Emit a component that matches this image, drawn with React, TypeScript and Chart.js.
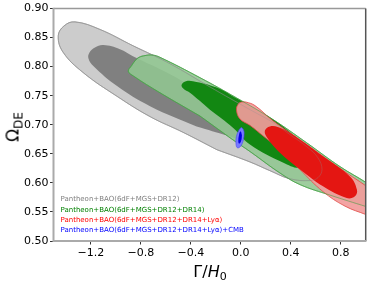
import React, { useEffect, useRef } from "react";
import { Chart, registerables } from "chart.js";

Chart.register(...registerables);

// Axis ticks
const xTicks = [-1.2, -0.8, -0.4, 0.0, 0.4, 0.8];
const yTicks = [0.5, 0.55, 0.6, 0.65, 0.7, 0.75, 0.8, 0.85, 0.9];

// Legend
const legendLabels = [
  "Pantheon+BAO(6dF+MGS+DR12)",
  "Pantheon+BAO(6dF+MGS+DR12+DR14)",
  "Pantheon+BAO(6dF+MGS+DR12+DR14+Lyα)",
  "Pantheon+BAO(6dF+MGS+DR12+DR14+Lyα)+CMB",
];
const legendColors = ["#808080", "#008000", "#ff0000", "#0000ff"];

// Contours (Γ/H0, Ω_DE)
const grayOuterX = [-0.191, -0.463, -0.727, -0.992, -1.264, -1.424, -1.462, -1.416, -1.328, -1.128, -0.864, -0.567, -0.247, 0.073, 0.257, 0.394, 0.53, 0.618, 0.65, 0.618, 0.554, 0.394, 0.233, 0.073];
const grayOuterY = [0.657, 0.687, 0.714, 0.749, 0.79, 0.825, 0.853, 0.87, 0.877, 0.864, 0.836, 0.805, 0.765, 0.726, 0.704, 0.683, 0.662, 0.643, 0.623, 0.609, 0.604, 0.607, 0.621, 0.636];

const grayInnerX = [-0.354, -0.727, -0.994, -1.181, -1.22, -1.213, -1.168, -1.101, -0.968, -0.864, -0.567, -0.247, 0.033, 0.169, 0.185, 0.089, -0.103];
const grayInnerY = [0.697, 0.732, 0.767, 0.801, 0.814, 0.824, 0.833, 0.837, 0.83, 0.818, 0.787, 0.747, 0.712, 0.693, 0.676, 0.669, 0.681];

const greenOuterX = [-0.327, -0.647, -0.861, -0.901, -0.874, -0.847, -0.815, -0.767, -0.711, -0.647, -0.327, -0.033, 0.257, 0.527, 0.794, 1.008, 1.154, 1.234, 1.194, 1.008, 0.714, 0.474, 0.313, 0.073, -0.063];
const greenOuterY = [0.715, 0.755, 0.784, 0.792, 0.802, 0.81, 0.816, 0.819, 0.82, 0.816, 0.781, 0.746, 0.709, 0.669, 0.628, 0.6, 0.578, 0.559, 0.547, 0.559, 0.579, 0.597, 0.617, 0.654, 0.674];

const greenInnerX = [-0.247, -0.407, -0.463, -0.474, -0.439, -0.383, -0.193, -0.031, 0.193, 0.394, 0.514, 0.538, 0.474, 0.337, 0.073, -0.063];
const greenInnerY = [0.726, 0.755, 0.763, 0.769, 0.775, 0.775, 0.764, 0.745, 0.718, 0.687, 0.661, 0.64, 0.626, 0.635, 0.666, 0.695];

const redOuterX = [0.337, 0.177, 0.073, -0.007, -0.035, -0.019, 0.005, 0.041, 0.113, 0.257, 0.527, 0.794, 1.008, 1.194, 1.29, 1.194, 1.008, 0.834, 0.658, 0.474];
const redOuterY = [0.654, 0.681, 0.699, 0.71, 0.726, 0.736, 0.739, 0.739, 0.733, 0.707, 0.666, 0.625, 0.594, 0.566, 0.547, 0.529, 0.545, 0.56, 0.585, 0.623];

const redInnerX = [0.474, 0.313, 0.207, 0.193, 0.233, 0.297, 0.394, 0.658, 0.874, 0.93, 0.914, 0.848, 0.658];
const redInnerY = [0.623, 0.652, 0.679, 0.69, 0.697, 0.696, 0.686, 0.646, 0.611, 0.588, 0.577, 0.574, 0.594];

const blueOuterX = [0.025, 0.012, -0.011, -0.031, -0.039, -0.035, -0.019, -0.004, 0.009, 0.025];
const blueOuterY = [0.68, 0.668, 0.661, 0.661, 0.669, 0.68, 0.689, 0.694, 0.695, 0.689];

const blueInnerX = [0.009, 0.005, -0.007, -0.017, -0.02, -0.015, -0.007, 0.001];
const blueInnerY = [0.682, 0.674, 0.668, 0.668, 0.674, 0.682, 0.688, 0.688];

const closed = (xs: number[], ys: number[]) => {
  const pts = xs.map((x, i) => ({ x, y: ys[i] }));
  pts.push({ x: xs[0], y: ys[0] });
  return pts;
};

const region = (xs: number[], ys: number[], fillColor: string, borderColor: string, borderWidth: number, order: number) => ({
  data: closed(xs, ys),
  showLine: true,
  fill: "shape",
  backgroundColor: fillColor,
  borderColor,
  borderWidth,
  pointRadius: 0,
  pointHoverRadius: 0,
  tension: 0.4,
  capBezierPoints: false,
  order,
});

const outline = (xs: number[], ys: number[], color: string, order: number) => ({
  data: closed(xs, ys),
  showLine: true,
  fill: false,
  backgroundColor: "transparent",
  borderColor: color,
  borderWidth: 0.7,
  pointRadius: 0,
  pointHoverRadius: 0,
  tension: 0.4,
  capBezierPoints: false,
  order,
});

const fmtX = (v: number) => (v < -1e-9 ? "\u2212" + Math.abs(v).toFixed(1) : Math.abs(v).toFixed(1));
const fmtY = (v: number) => v.toFixed(2);

const framePlugin = {
  id: "frame",
  afterDraw(chart: any) {
    const { ctx, chartArea: a } = chart;
    ctx.save();
    ctx.lineWidth = 1.5;
    ctx.strokeStyle = "#999999";
    ctx.beginPath();
    ctx.moveTo(a.left, a.top);
    ctx.lineTo(a.right, a.top);
    ctx.stroke();
    ctx.strokeStyle = "#555555";
    ctx.beginPath();
    ctx.moveTo(a.right, a.top);
    ctx.lineTo(a.right, a.bottom);
    ctx.stroke();
    ctx.lineWidth = 2;
    ctx.strokeStyle = "#aaaaaa";
    ctx.beginPath();
    ctx.moveTo(a.left, a.top - 0.75);
    ctx.lineTo(a.left, a.bottom);
    ctx.lineTo(a.right + 0.75, a.bottom);
    ctx.stroke();
    ctx.restore();
  },
};

export default function App() {
  const ref = useRef<HTMLCanvasElement | null>(null);

  useEffect(() => {
    if (!ref.current) return;
    const font = { family: "'DejaVu Sans', sans-serif", size: 11 };
    const chart = new Chart(ref.current, {
      type: "scatter",
      data: {
        datasets: [
          region(grayOuterX, grayOuterY, "rgb(204,204,204)", "rgb(165,165,165)", 0.8, 10),
          region(grayInnerX, grayInnerY, "rgb(128,128,128)", "rgb(128,128,128)", 0, 9),
          region(greenOuterX, greenOuterY, "rgba(145,198,145,0.88)", "rgb(80,170,80)", 0.8, 8),
          region(greenInnerX, greenInnerY, "rgb(18,135,18)", "rgb(18,135,18)", 0, 7),
          outline(grayOuterX, grayOuterY, "rgba(140,140,140,0.55)", 6),
          region(redOuterX, redOuterY, "rgba(242,155,155,0.92)", "rgb(225,75,70)", 0.8, 5),
          region(redInnerX, redInnerY, "rgb(228,22,18)", "rgb(228,22,18)", 0, 4),
          outline(grayOuterX, grayOuterY, "rgba(140,140,140,0.45)", 3),
          outline(greenOuterX, greenOuterY, "rgba(70,160,70,0.8)", 2.5),
          region(blueOuterX, blueOuterY, "rgb(120,120,255)", "rgb(70,70,240)", 0.6, 2),
          region(blueInnerX, blueInnerY, "rgb(0,0,225)", "rgb(0,0,225)", 0, 1),
        ] as any,
      },
      options: {
        animation: false,
        responsive: false,
        devicePixelRatio: 1,
        events: [],
        layout: { padding: { top: 8.5, right: 8.3, left: 0, bottom: 0 } },
        plugins: { legend: { display: false }, tooltip: { enabled: false } },
        scales: {
          x: {
            type: "linear",
            min: -1.5,
            max: 1.0,
            afterBuildTicks: (s: any) => {
              s.ticks = xTicks.map((v) => ({ value: v }));
            },
            afterFit: (s: any) => {
              s.height = 44;
            },
            ticks: {
              callback: (v: any) => fmtX(Number(v)),
              color: "#000",
              font,
              padding: 2,
              maxRotation: 0,
              autoSkip: false,
            },
            grid: { display: true, drawOnChartArea: false, drawTicks: true, tickLength: 3.5, color: "#333", lineWidth: 1 },
            border: { display: false },
          },
          y: {
            type: "linear",
            min: 0.5,
            max: 0.9,
            afterBuildTicks: (s: any) => {
              s.ticks = yTicks.map((v) => ({ value: v }));
            },
            afterFit: (s: any) => {
              s.width = 53.5;
            },
            ticks: {
              callback: (v: any) => fmtY(Number(v)),
              color: "#000",
              font,
              padding: 1.5,
              autoSkip: false,
            },
            grid: { display: true, drawOnChartArea: false, drawTicks: true, tickLength: 3.5, color: "#333", lineWidth: 1 },
            border: { display: false },
          },
        },
      } as any,
      plugins: [framePlugin],
    });
    return () => chart.destroy();
  }, []);

  const legendCenters = [199.3, 209.5, 219.8, 230];

  return (
    <div style={{ position: "fixed", left: 0, top: 0, width: 374, height: 285, background: "#fff", fontFamily: "'DejaVu Sans', sans-serif" }}>
      <canvas ref={ref} width={374} height={285} style={{ position: "absolute", left: 0, top: 0, width: 374, height: 285 }} />
      {legendLabels.map((t, i) => (
        <div
          key={t}
          style={{
            position: "absolute",
            left: 60.5,
            top: legendCenters[i] - 4,
            fontSize: 7,
            lineHeight: "8px",
            color: legendColors[i],
            whiteSpace: "nowrap",
          }}
        >
          {t}
        </div>
      ))}
      <div
        style={{
          position: "absolute",
          left: 14,
          top: 127,
          transform: "translate(-50%, -50%) rotate(-90deg)",
          fontSize: 17,
          lineHeight: "17px",
          whiteSpace: "nowrap",
          color: "#000",
        }}
      >
        Ω<span style={{ fontSize: 12, position: "relative", top: 4 }}>DE</span>
      </div>
      <div
        style={{
          position: "absolute",
          left: 210,
          top: 273,
          transform: "translate(-50%, -50%)",
          fontSize: 16,
          lineHeight: "16px",
          whiteSpace: "nowrap",
          color: "#000",
        }}
      >
        Γ/<span style={{ fontStyle: "italic" }}>H</span>
        <span style={{ fontSize: 11, position: "relative", top: 3 }}>0</span>
      </div>
    </div>
  );
}
